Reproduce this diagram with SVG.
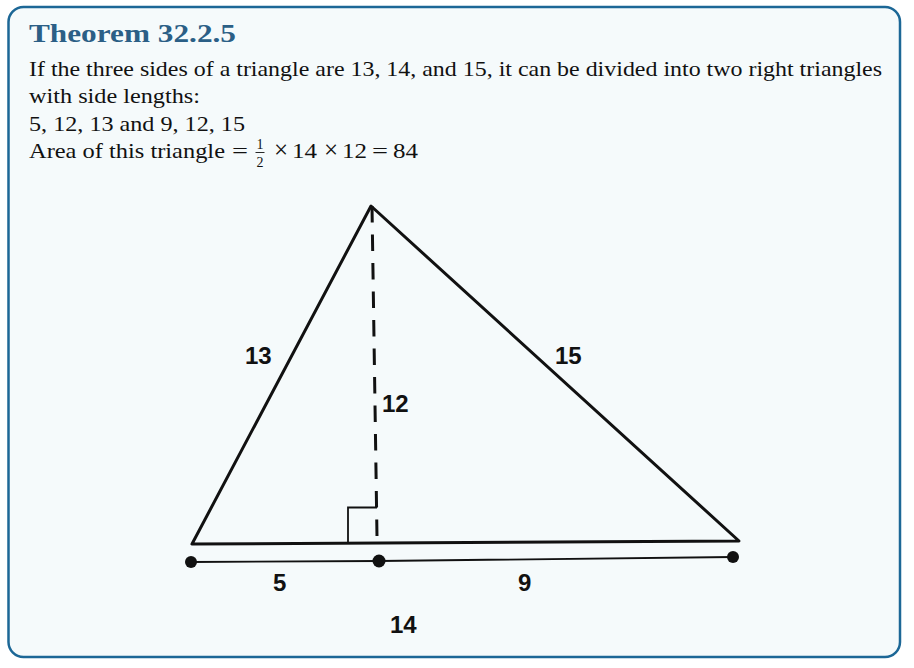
<svg xmlns="http://www.w3.org/2000/svg" width="914" height="668" viewBox="0 0 914 668">
<style>
.body{font-family:"Liberation Serif","Times New Roman",serif;font-size:22px;fill:#111}
.frac{font-family:"Liberation Serif","Times New Roman",serif;font-size:14px;fill:#111}
.title{font-family:"Liberation Serif","Times New Roman",serif;font-size:26px;font-weight:bold;fill:#2b5f86}
.lbl{font-family:"Liberation Sans",Arial,sans-serif;font-size:24px;font-weight:bold;fill:#111}
.edge{stroke:#111;stroke-width:3;fill:none;stroke-linecap:round;stroke-linejoin:round}
.thin{stroke:#111;stroke-width:1.8;fill:none}
</style>
<rect x="0" y="0" width="914" height="668" fill="#ffffff"/>
<g id="box">
<rect x="8.5" y="7" width="891.5" height="650" rx="15" fill="#f5fafb" stroke="#1c6796" stroke-width="2.5"/>
<text class="title" x="29" y="42" textLength="207" lengthAdjust="spacingAndGlyphs">Theorem 32.2.5</text>
<text class="body" x="29" y="76" textLength="853" lengthAdjust="spacingAndGlyphs">If the three sides of a triangle are 13, 14, and 15, it can be divided into two right triangles</text>
<text class="body" x="29" y="103" textLength="171" lengthAdjust="spacingAndGlyphs">with side lengths:</text>
<text class="body" x="29" y="131" textLength="216" lengthAdjust="spacingAndGlyphs">5, 12, 13 and 9, 12, 15</text>
<text class="body" x="29" y="158" textLength="196" lengthAdjust="spacingAndGlyphs">Area of this triangle</text>
<text class="body" x="232" y="158" textLength="16" lengthAdjust="spacingAndGlyphs">=</text>
<text class="frac" x="256.5" y="148.5">1</text>
<line x1="255.5" y1="152.5" x2="264.5" y2="152.5" stroke="#111" stroke-width="0.9"/>
<text class="frac" x="256.5" y="166.5">2</text>
<text class="body" x="274" y="158" style="font-size:25px">×</text>
<text class="body" x="292" y="158" textLength="25" lengthAdjust="spacingAndGlyphs">14</text>
<text class="body" x="324" y="158" style="font-size:25px">×</text>
<text class="body" x="342" y="158" textLength="25" lengthAdjust="spacingAndGlyphs">12</text>
<text class="body" x="372" y="158" textLength="16" lengthAdjust="spacingAndGlyphs">=</text>
<text class="body" x="393" y="158" textLength="25" lengthAdjust="spacingAndGlyphs">84</text>
</g>
<g id="triangle">
<polygon class="edge" points="371,206 192,544 739,541"/>
<line x1="372" y1="206" x2="377" y2="537" stroke="#111" stroke-width="3" stroke-dasharray="16.5 12"/>
<polyline class="thin" points="348,543 348,507.5 377,507.5"/>
</g>
<g id="segments">
<polyline class="thin" points="191,562 379,561 733,557"/>
<circle cx="191" cy="562" r="6" fill="#111"/>
<circle cx="379" cy="561" r="6.5" fill="#111"/>
<circle cx="733" cy="557" r="6" fill="#111"/>
</g>
<g id="labels">
<text class="lbl" x="245" y="364">13</text>
<text class="lbl" x="555" y="364">15</text>
<text class="lbl" x="382" y="412">12</text>
<text class="lbl" x="273" y="591">5</text>
<text class="lbl" x="518" y="591">9</text>
<text class="lbl" x="390" y="633">14</text>
</g>
</svg>
